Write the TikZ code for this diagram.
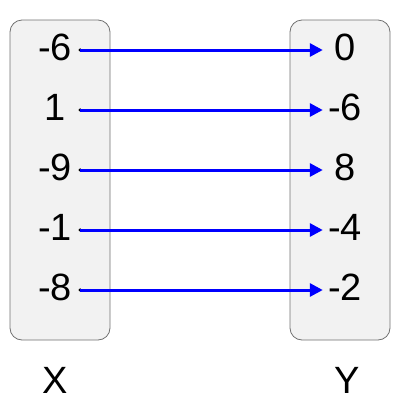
\documentclass[tikz,border=0pt]{standalone}
\usepackage{fontspec}
\setmainfont{Liberation Sans}
\usetikzlibrary{arrows.meta}
\definecolor{boxfill}{HTML}{F2F2F2}
\definecolor{boxline}{HTML}{707070}
\tikzset{
  setbox/.style={draw=boxline, fill=boxfill, rounded corners=12pt, line width=0.8pt},
  num/.style={inner sep=0pt, font=\fontsize{38}{40}\selectfont},
  maparrow/.style={draw=blue, line width=3pt, -{Triangle[length=13pt,width=13pt]}}
}
\begin{document}
\begin{tikzpicture}[x=1pt,y=-1pt]
\useasboundingbox (0,0) rectangle (400,400);
\draw [setbox] (10,20) rectangle (110,340);
\draw [setbox] (290,20) rectangle (390,340);

\foreach \a/\b [count=\i] in {-6/0,1/-6,-9/8,-1/-4,-8/-2} {
\node [num, minimum width=50pt] (x\i) at (55,47+60*\i-60) {\a};
\node [num, minimum width=44pt] (y\i) at (345,47+60*\i-60) {\b};
\fill ([yshift=-3pt]x\i.east) circle (1.8pt);
\draw [maparrow] ([yshift=-3pt]x\i.east) -- ([yshift=-3pt]y\i.west);}

\node [num] (xlabel) at (55,380) {X};
\node [num] (ylabel) at (347,380) {Y};
\end{tikzpicture}
\end{document}
